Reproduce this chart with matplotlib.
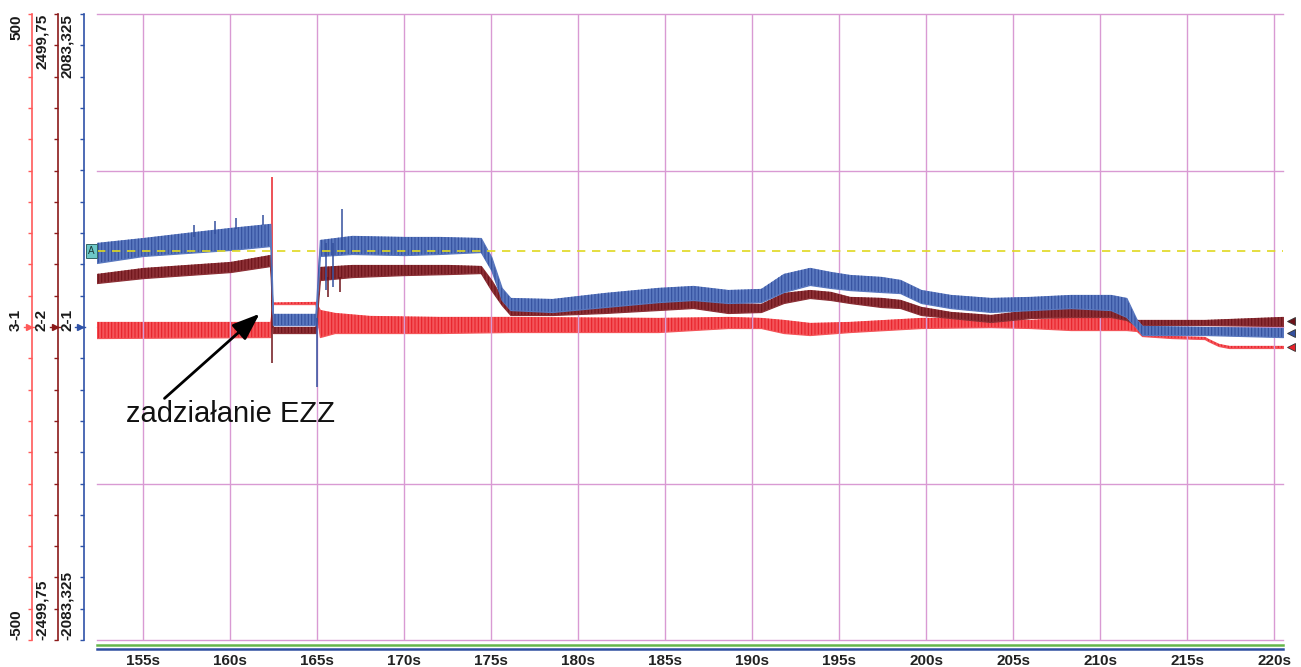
#!/usr/bin/env python3

import matplotlib

matplotlib.use("Agg")
import matplotlib.pyplot as plt
from matplotlib import transforms

plt.rcParams["font.family"] = ["Liberation Sans", "DejaVu Sans"]
plt.rcParams["hatch.linewidth"] = 0.8

# Time window shown [s]
t_start = 152.34
t_end = 220.5
x_ticks = list(range(155, 221, 5))

# Channel 3-1 (light red), full scale +-500
scale_31 = 500
label_31 = "500"
t_31 = [152.3, 162.3, 162.45, 164.9, 165.15, 166, 168, 172, 176, 184.6, 188.6, 190.5, 191.8, 193.3,
        195.6, 199.7, 203.7, 206, 208.3, 210.6, 211.5, 212.1, 212.4, 214.1, 216, 216.2, 216.8, 217.4,
        220.5]
hi_31 = [8.0, 8.0, 39.1, 40.0, 27.1, 22.4, 17.6, 16.0, 16.0, 14.4, 16.0, 14.4, 11.2, 6.4,
         8.0, 14.4, 14.4, 11.2, 16.0, 16.0, 14.4, -3.2, -11.2, -14.4, -16.0, -19.2, -27.1, -30.3,
         -30.3]
lo_31 = [-17.6, -16.0, 36.7, 36.7, -16.0, -9.6, -9.6, -9.6, -8.0, -8.0, -1.6, -1.6, -9.6, -12.8,
         -8.0, -1.6, 0.0, -1.6, -4.8, -4.8, -4.8, -6.4, -14.4, -17.6, -19.2, -22.4, -30.3, -33.5,
         -33.5]
spike_t_31 = [162.4]
spike_lo_31 = [43]
spike_hi_31 = [240]

# Channel 2-2 (dark red), full scale +-2499,75
scale_22 = 2499.75
label_22 = "2499,75"
t_22 = [152.3, 155, 157.5, 160, 162.3, 162.45, 164.9, 165.15, 167, 170, 172.5, 174.4, 175, 175.6,
        176.1, 178.5, 181.5, 184.6, 186.6, 188.6, 190.5, 191.8, 193.3, 194.5, 195.6, 197.4, 198.5,
        199.7, 201.4, 203.7, 206, 208.3, 210.6, 211.5, 212.1, 212.4, 216, 220.5]
hi_22 = [423, 471, 495, 519, 575, 0, 0, 479, 495, 495, 495, 487, 375, 240,
         176, 160, 192, 216, 216, 192, 184, 272, 295, 280, 240, 232, 216,
         160, 120, 96, 136, 160, 152, 120, 56, 56, 56, 80]
lo_22 = [351, 391, 415, 439, 487, -48, -48, 375, 399, 415, 423, 431, 295, 176,
         96, 96, 112, 136, 152, 112, 120, 192, 232, 216, 192, 160, 152,
         96, 72, 40, 72, 80, 80, 56, 8, 16, 16, 8]
spike_t_22 = [162.4, 165.6, 166.3]
spike_lo_22 = [-287, 240, 280]
spike_hi_22 = [216, 400, 400]

# Channel 2-1 (blue), full scale +-2083,325
scale_21 = 2083.325
label_21 = "2083,325"
t_21 = [152.3, 155, 157.5, 160, 162.3, 162.45, 164.9, 165.15, 167, 170, 172, 174.4, 175, 175.6,
        176.1, 178.5, 181.5, 184.6, 186.6, 188.6, 190.5, 191.8, 193.3, 194.5, 195.6, 197.4, 198.5,
        199.7, 201.4, 203.7, 206, 208.3, 210.6, 211.5, 212.1, 212.4, 216, 220.5]
hi_21 = [559, 592, 626, 659, 686, 87, 87, 579, 606, 599, 599, 592, 466, 260,
         193, 186, 226, 260, 273, 246, 253, 353, 393, 366, 346, 333, 313,
         246, 213, 193, 200, 213, 213, 193, 47, 7, 0, -7]
lo_21 = [426, 473, 493, 513, 539, 13, 13, 473, 486, 479, 486, 499, 379, 180,
         113, 100, 133, 166, 180, 160, 166, 233, 280, 260, 246, 233, 226,
         160, 126, 100, 113, 126, 113, 67, -7, -53, -53, -67]
spike_t_21 = [157.9, 159.1, 160.3, 161.9, 165.0, 165.5, 165.9, 166.4]
spike_lo_21 = [600, 620, 650, 680, -399, 246, 266, 486]
spike_hi_21 = [680, 706, 726, 746, 60, 560, 560, 785]

# Cursor A (on the 2-1 scale)
cursor_a = 506

# Annotation
note_text = "zadziałanie EZZ"
note_tip = (161.8, 24)
note_tail = (156.1, -117)
note_pos = (160.0, -139)

PINK = "#d99ad3"
AX_31 = "#ff5a5a"
AX_22 = "#8b1a1a"
AX_21 = "#2f52a8"


def style_channel_axis(ax, color, outward_px, scale):
    """Put a channel's scale on an offset left spine."""
    for side in ("top", "right", "bottom"):
        ax.spines[side].set_visible(False)
    ax.spines["left"].set_visible(True)
    ax.spines["left"].set_position(("outward", outward_px * 0.72))
    ax.spines["left"].set_color(color)
    ax.spines["left"].set_linewidth(1.2)
    ax.yaxis.set_ticks_position("left")
    ax.set_ylim(-scale, scale)
    ax.set_yticks([scale * k / 10 for k in range(-10, 11)])
    ax.tick_params(axis="y", colors=color, length=3, width=1, labelleft=False, labelright=False)


def channel_labels(ax, name, txt, x_px, marker_px, color):
    """Rotated end-of-scale labels, channel name and zero marker."""
    kw = dict(xycoords="axes fraction", textcoords="offset points", rotation=90,
              ha="center", fontsize=11, fontweight="bold", color="#1a1a1a")
    ax.annotate(txt, xy=(0, 1), xytext=(x_px * 0.72, 0), va="top", **kw)
    ax.annotate("-" + txt, xy=(0, 0), xytext=(x_px * 0.72, 0), va="bottom", **kw)
    ax.annotate(name, xy=(0, 0.5), xytext=(x_px * 0.72, 5), va="center", **kw)
    trans = ax.transAxes + transforms.ScaledTranslation(marker_px / 100, 0, ax.figure.dpi_scale_trans)
    ax.plot([0], [0.5], marker=">", markersize=4, color=color, transform=trans, clip_on=False)
    ax.plot([-0.004, 0.004], [0.5, 0.5], lw=1, color=color, transform=trans, clip_on=False)


def draw_channel(ax, t, hi, lo, sp_t, sp_lo, sp_hi, face, stripe):
    """Noisy signal drawn as its min/max envelope with a striped fill."""
    ax.fill_between(t, lo, hi, facecolor=face, edgecolor=face, lw=0.9)
    ax.fill_between(t, lo, hi, facecolor="none", edgecolor=stripe, lw=0, hatch="|||||")
    ax.vlines(sp_t, sp_lo, sp_hi, color=stripe, lw=1.1)
    trans = transforms.blended_transform_factory(ax.transAxes, ax.transData)
    ax.plot([1.0 + 8 / 1186], [(hi[-1] + lo[-1]) / 2], marker="<", markersize=6,
            color=stripe, markeredgecolor="#333333", markeredgewidth=0.6,
            transform=trans, clip_on=False)


def main() -> None:
    fig = plt.figure(figsize=(13.01, 6.67), dpi=100)
    ax = fig.add_axes([97 / 1301, 27 / 667, 1186 / 1301, 626 / 667])
    ax_22 = ax.twinx()
    ax_21 = ax.twinx()

    ax.set_xlim(t_start, t_end)
    ax.set_xticks(x_ticks)
    ax.set_xticklabels([f"{t}s" for t in x_ticks], fontsize=11, fontweight="bold", color="#222222")
    ax.tick_params(axis="x", length=0, pad=10)
    ax.grid(axis="x", color=PINK, lw=1)
    for k in (-1, -0.5, 0, 0.5, 1):
        ax.axhline(k * scale_31, color=PINK, lw=1, clip_on=False, zorder=0.5)
    for side in ("top", "right", "bottom"):
        ax.spines[side].set_visible(False)

    style_channel_axis(ax, AX_31, 65, scale_31)
    style_channel_axis(ax_22, AX_22, 39, scale_22)
    style_channel_axis(ax_21, AX_21, 13, scale_21)

    channel_labels(ax, "3-1", label_31, -81, -68, AX_31)
    channel_labels(ax, "2-2", label_22, -55, -42, AX_22)
    channel_labels(ax, "2-1", label_21, -30, -17, AX_21)

    # bottom status bars
    for y, c in ((-5 / 626, "#66b64a"), (-9 / 626, "#2f4ea0")):
        ax.plot([0, 1], [y, y], color=c, lw=1.8, transform=ax.transAxes, clip_on=False)

    draw_channel(ax, t_31, hi_31, lo_31, spike_t_31, spike_lo_31, spike_hi_31, "#f4555a", "#e8222a")
    draw_channel(ax_22, t_22, hi_22, lo_22, spike_t_22, spike_lo_22, spike_hi_22, "#8c3036", "#6e141a")
    draw_channel(ax_21, t_21, hi_21, lo_21, spike_t_21, spike_lo_21, spike_hi_21, "#5a78bf", "#34509e")

    # cursor A
    ax_21.axhline(cursor_a, color="#e0d820", lw=1.2, ls=(0, (5, 4)))
    trans = transforms.blended_transform_factory(ax_21.transAxes, ax_21.transData)
    ax_21.text(-0.0045, cursor_a, "A", transform=trans, ha="center", va="center", fontsize=7,
               color="#1c3a3a", bbox=dict(boxstyle="square,pad=0.2", fc="#6cc8c8", ec="#336666", lw=0.7),
               clip_on=False)

    ax_21.annotate("", xy=note_tip, xytext=note_tail,
                   xycoords=ax.transData, textcoords=ax.transData,
                   arrowprops=dict(arrowstyle="-|>,head_length=1.2,head_width=0.45",
                                   mutation_scale=14, color="black", lw=2))
    ax_21.text(note_pos[0], note_pos[1], note_text, transform=ax.transData,
               ha="center", va="center", fontsize=21, color="#111111")

    fig.savefig("out.png", dpi=100)


if __name__ == "__main__":
    main()
